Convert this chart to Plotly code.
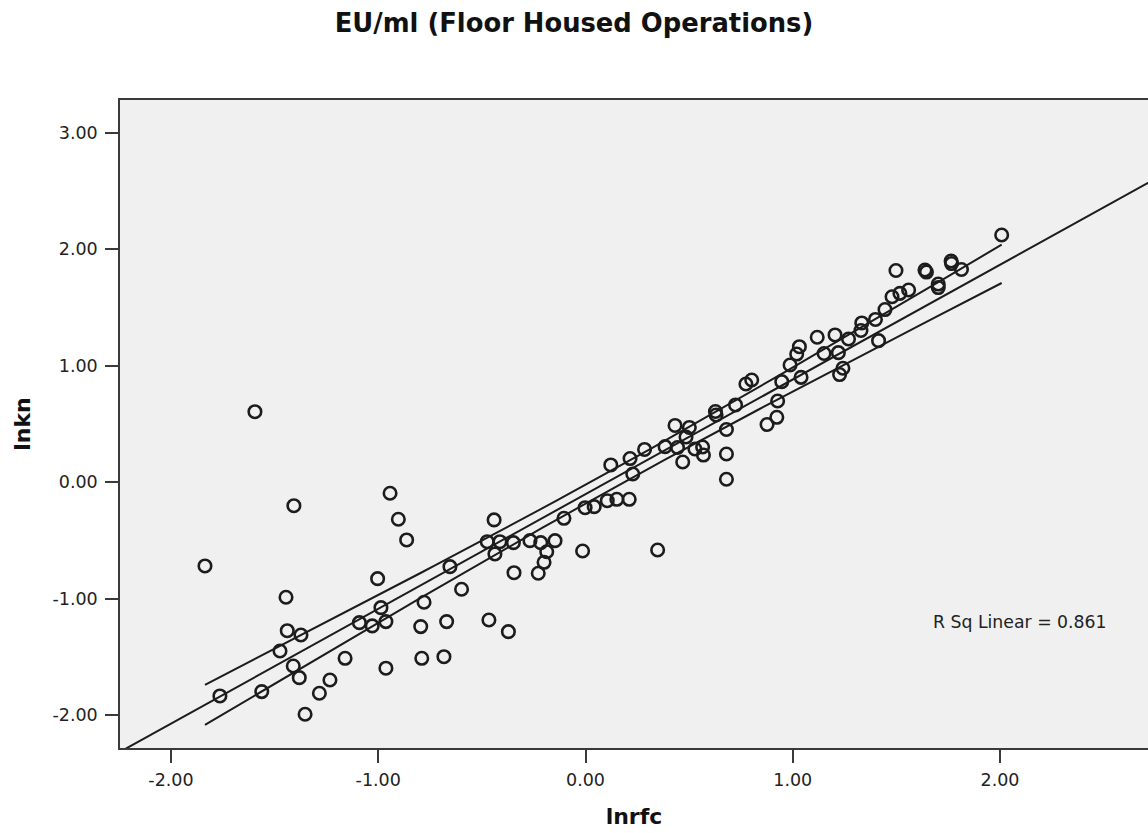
import numpy as np
import plotly.graph_objects as go

# lnrfc (x) and lnkn (y) for each floor-housed operation
lnrfc = [
    -1.836, -1.595, -1.407, -0.943, -0.903, -0.863, -1.003, -1.445, -1.439, -1.373,
    -1.474, -1.091, -1.029, -0.963, -0.987, -1.410, -1.381, -1.160, -1.233, -1.284,
    -1.562, -1.764, -1.353, -0.963, -0.779, -0.795, -0.670, -0.790, -0.683, -0.654,
    -0.598, -0.441, -0.474, -0.413, -0.348, -0.437, -0.268, -0.216, -0.147, -0.187,
    -0.200, -0.228, -0.345, -0.466, -0.372, -0.014, -0.104, -0.002, 0.042, 0.105,
    0.151, 0.211, 0.348, 0.122, 0.215, 0.228, 0.285, 0.384, 0.432, 0.501,
    0.485, 0.444, 0.469, 0.528, 0.565, 0.569, 0.627, 0.630, 0.724, 0.680,
    0.680, 0.680, 0.774, 0.802, 0.876, 0.923, 0.927, 0.947, 0.987, 1.019,
    1.032, 1.040, 1.118, 1.151, 1.220, 1.204, 1.226, 1.242, 1.269, 1.333,
    1.329, 1.399, 1.445, 1.479, 1.517, 1.559, 1.414, 1.498, 1.638, 1.645,
    1.764, 1.766, 1.814, 1.702, 1.702, 2.008,
]
lnkn = [
    -0.719, 0.605, -0.202, -0.095, -0.318, -0.496, -0.828, -0.988, -1.275, -1.312,
    -1.449, -1.206, -1.234, -1.197, -1.077, -1.578, -1.678, -1.512, -1.698, -1.812,
    -1.798, -1.835, -1.992, -1.597, -1.031, -1.240, -1.197, -1.512, -1.498, -0.725,
    -0.919, -0.324, -0.511, -0.511, -0.519, -0.616, -0.502, -0.519, -0.502, -0.597,
    -0.688, -0.782, -0.777, -1.183, -1.283, -0.591, -0.310, -0.219, -0.210, -0.159,
    -0.147, -0.147, -0.582, 0.148, 0.203, 0.070, 0.281, 0.305, 0.487, 0.470,
    0.388, 0.298, 0.173, 0.285, 0.302, 0.233, 0.607, 0.577, 0.663, 0.452,
    0.242, 0.025, 0.843, 0.877, 0.495, 0.557, 0.697, 0.863, 1.006, 1.100,
    1.163, 0.900, 1.244, 1.105, 1.112, 1.264, 0.924, 0.978, 1.229, 1.367,
    1.302, 1.397, 1.482, 1.592, 1.621, 1.650, 1.215, 1.817, 1.821, 1.804,
    1.899, 1.877, 1.826, 1.701, 1.671, 2.122,
]

x_ticks = [-2, -1, 0, 1, 2]
y_ticks = [-2, -1, 0, 1, 2, 3]
x_tick_text = ["-2.00", "-1.00", "0.00", "1.00", "2.00"]
y_tick_text = ["-2.00", "-1.00", "0.00", "1.00", "2.00", "3.00"]
r_sq_text = "R Sq Linear = 0.861"

x = np.array(lnrfc)
y = np.array(lnkn)
n = len(x)

# Ordinary least squares fit with 95% confidence band for the mean
slope, intercept = np.polyfit(x, y, 1)
resid = y - (slope * x + intercept)
s = np.sqrt(np.sum(resid ** 2) / (n - 2))
x_mean = x.mean()
sxx = np.sum((x - x_mean) ** 2)
t_crit = 1.983

x_line = np.array([-2.4, 2.9])
x_band = np.linspace(x.min(), x.max(), 60)
y_band = slope * x_band + intercept
half = t_crit * s * np.sqrt(1.0 / n + (x_band - x_mean) ** 2 / sxx)

ink = "#1c1c1c"
font_family = "DejaVu Sans, Liberation Sans, Arial, sans-serif"

fig = go.Figure()
fig.add_trace(go.Scatter(x=x_band, y=y_band + half, mode="lines",
                         line=dict(color=ink, width=2), hoverinfo="skip"))
fig.add_trace(go.Scatter(x=x_band, y=y_band - half, mode="lines",
                         line=dict(color=ink, width=2), hoverinfo="skip"))
fig.add_trace(go.Scatter(x=x_line, y=slope * x_line + intercept, mode="lines",
                         line=dict(color=ink, width=2), hoverinfo="skip"))
fig.add_trace(go.Scatter(
    x=lnrfc, y=lnkn, mode="markers",
    marker=dict(symbol="circle-open", size=12.5, color=ink,
                line=dict(width=2.6, color=ink)),
    cliponaxis=True,
))

fig.add_annotation(x=2.097, y=-1.2, xref="x", yref="y", text=r_sq_text,
                   showarrow=False,
                   font=dict(family=font_family, size=17.3, color="#222"))

axis_font = dict(family=font_family, size=17.5, color="#222")
title_font = dict(family=font_family, size=22, color="#111")
fig.update_layout(
    width=1148, height=833,
    margin=dict(l=120, r=0, t=100, b=85),
    paper_bgcolor="white",
    plot_bgcolor="#f0f0f0",
    showlegend=False,
    title=dict(text="<b>EU/ml (Floor Housed Operations)</b>", x=0.5, xanchor="center",
               y=1 - 23 / 833, yanchor="middle",
               font=dict(family=font_family, size=25.8, color="#111")),
    xaxis=dict(
        range=[-2.246, 2.714], tickvals=x_ticks, ticktext=x_tick_text,
        showgrid=False, zeroline=False,
        showline=True, linecolor="#3a3a3a", linewidth=1.5, mirror=True,
        ticks="outside", ticklen=13, tickwidth=1.5, tickcolor="#3a3a3a",
        tickfont=axis_font, ticklabelstandoff=2,
        title=dict(text="<b>lnrfc</b>", standoff=20, font=title_font),
    ),
    yaxis=dict(
        range=[-2.282, 3.281], tickvals=y_ticks, ticktext=y_tick_text,
        showgrid=False, zeroline=False,
        showline=True, linecolor="#3a3a3a", linewidth=1.5,
        ticks="outside", ticklen=13, tickwidth=1.5, tickcolor="#3a3a3a",
        tickfont=axis_font, ticklabelstandoff=4,
        title=dict(text="<b>lnkn</b>", standoff=16, font=title_font),
    ),
)

fig.write_html("out.html")
